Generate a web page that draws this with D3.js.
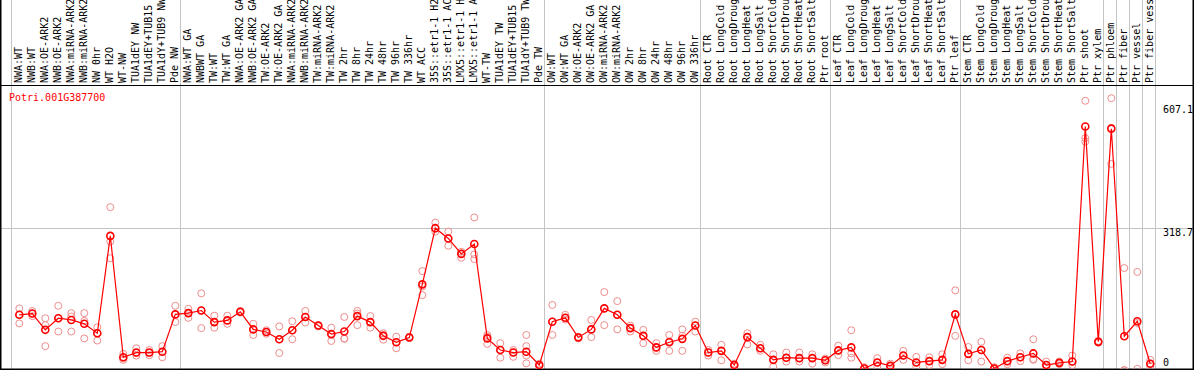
<!DOCTYPE html>
<html>
<head>
<meta charset="utf-8">
<script src="https://d3js.org/d3.v7.min.js"></script>
<style>
  body { margin: 0; background: #fff; }
  svg { display: block; }
  text { font-family: "DejaVu Sans Mono", monospace; font-size: 10px; }
</style>
</head>
<body>
<div id="chart"></div>
<script>
// Expression profile chart

// sample names (already cut to 14 chars like the original)
var sampleLabels = [
    "NWA:WT", "NWB:WT", "NWA:OE-ARK2", "NWB:OE-ARK2", "NWA:miRNA-ARK2", "NWB:miRNA-ARK2",
    "NW 0hr", "WT H2O", "WT-NW", "TUA1dEY NW", "TUA1dEY+TUB15", "TUA1dY+TUB9 NW", "Pde NW",
    "NWA:WT GA", "NWBWT GA", "TW:WT", "TW:WT GA", "NWA:OE-ARK2 GA", "NWB:OE-ARK2 GA",
    "TW:OE-ARK2", "TW:OE-ARK2 GA", "NWA:miRNA-ARK2", "NWB:miRNA-ARK2", "TW:miRNA-ARK2",
    "TW:miRNA-ARK2", "TW 2hr", "TW 8hr", "TW 24hr", "TW 48hr", "TW 96hr", "TW 336hr",
    "WT ACC", "35S::etr1-1 H2", "35S::etr1-1 AC", "LMX5::etr1-1 H", "LMX5::etr1-1 A",
    "WT-TW", "TUA1dEY TW", "TUA1dEY+TUB15", "TUA1dY+TUB9 TW", "Pde TW",
    "OW:WT", "OW:WT GA", "OW:OE-ARK2", "OW:OE-ARK2 GA", "OW:miRNA-ARK2", "OW:miRNA-ARK2",
    "OW 2hr", "OW 8hr", "OW 24hr", "OW 48hr", "OW 96hr", "OW 336hr",
    "Root CTR", "Root LongCold", "Root LongDroug", "Root LongHeat", "Root LongSalt",
    "Root ShortCold", "Root ShortDrou", "Root ShortHeat", "Root ShortSalt", "Ptr root",
    "Leaf CTR", "Leaf LongCold", "Leaf LongDroug", "Leaf LongHeat", "Leaf LongSalt",
    "Leaf ShortCold", "Leaf ShortDrou", "Leaf ShortHeat", "Leaf ShortSalt", "Ptr leaf",
    "Stem CTR", "Stem LongCold", "Stem LongDroug", "Stem LongHeat", "Stem LongSalt",
    "Stem ShortCold", "Stem ShortDrou", "Stem ShortHeat", "Stem ShortSalt", "Ptr shoot",
    "Ptr xylem", "Ptr phloem", "Ptr fiber", "Ptr vessel", "Ptr fiber vess"
];

// mean expression per sample
var meanValues = [
    117, 120, 82, 109, 105, 96, 74, 301, 18, 29, 29, 31, 118,
    121, 127, 100, 104, 124, 83, 77, 60, 81, 112, 92, 72, 78, 114, 100, 68, 53, 64,
    188, 319, 295, 259, 282, 62, 35, 29, 31, 0,
    101, 110, 64, 83, 132, 117, 86, 68, 41, 53, 61, 92,
    29, 33, 0, 65, 39, 12, 17, 16, 16, 11,
    34, 41, -8, 6, -2, 22, 6, 9, 12, 118,
    26, 35, -8, 9, 18, 27, 0, 5, 8, 556,
    54, 551, 67, 102, 3
];

// single replicates per sample
var replicateValues = [
    [132, 117, 97], [126, 120, 114], [109, 93, 44], [138, 109, 78], [121, 113, 78],
    [121, 103, 62], [88, 74, 57], [368, 288, 249], [26, 16, 12], [39, 28, 22],
    [35, 28, 23], [44, 31, 18], [138, 118, 100],
    [131, 121, 110], [167, 127, 86], [115, 100, 87], [115, 104, 96], [126, 124, 122],
    [96, 83, 70], [81, 77, 73], [90, 60, 28], [102, 81, 60], [126, 112, 99],
    [93, 92, 90], [87, 72, 56], [112, 62, 61], [126, 120, 93], [114, 100, 87],
    [74, 70, 59], [66, 53, 39], [66, 64, 63],
    [219, 183, 163], [332, 318, 311], [311, 295, 278], [264, 260, 250], [344, 258, 247],
    [70, 66, 49], [51, 35, 17], [35, 29, 19], [70, 44, 22, 4], [3, 0, -3],
    [140, 101, 70], [117, 110, 106], [66, 64, 62], [105, 83, 65], [170, 132, 93],
    [149, 117, 83], [92, 86, 78], [82, 68, 51], [51, 41, 33], [70, 55, 33],
    [83, 68, 33], [101, 92, 78],
    [35, 29, 22], [47, 33, 11], [3, 0, -3], [74, 65, 48], [47, 39, 33],
    [25, 12, -4], [29, 17, 8], [29, 16, 8], [25, 16, 3], [15, 11, 6],
    [45, 34, 23], [81, 27, 17], [-5, -8, -10], [16, 6, -4], [3, -2, -8],
    [33, 22, 12], [19, 6, -4], [18, 9, 0], [25, 12, 2], [174, 118, 68],
    [42, 26, 11], [54, 35, 8], [-5, -8, -10], [17, 9, 2], [27, 18, 9],
    [60, 14, 12], [8, 0, -4], [8, 5, 2], [22, 8, 0], [616, 529, 521],
    [56, 54, 52], [622, 553, 469], [226, -12, -12], [217, 98, -9], [12, 3, -4]
];

// a gray separator follows each of these sample indexes (-1 = left edge)
var groupEnds = [-1, 12, 40, 52, 62, 72, 83, 84, 85, 86, 87];

// right side labels, the middle one also gets a grid line
var tickValues = [607.1, 318.7, 0];
var gridValues = [318.7];

var geneName = "Potri.001G387700";

// SVG size
var svgWidth = 1194;
var svgHeight = 370;
var headerHeight = 85;
var plotBottom = 369;

var svg = d3.select("#chart")
    .append("svg")
    .attr("width", svgWidth)
    .attr("height", svgHeight);

// scales
var xScale = d3.scalePoint()
    .domain(d3.range(sampleLabels.length))
    .range([19.3, 19.3 + 13 * (sampleLabels.length - 1)]);

var yScale = d3.scaleLinear()
    .domain([0, 607.1])
    .range([365, 104.6]);

// clip for the plot area
svg.append("clipPath")
    .attr("id", "plotClip")
    .append("rect")
    .attr("x", 0)
    .attr("y", headerHeight)
    .attr("width", svgWidth)
    .attr("height", plotBottom - headerHeight);

// vertical group separators (run through header and plot)
svg.append("g")
    .selectAll("line")
    .data(groupEnds)
    .enter()
    .append("line")
    .attr("x1", d => Math.round(xScale(Math.max(d, 0)) + (d < 0 ? -13 : 0) + 5) + 0.5)
    .attr("x2", d => Math.round(xScale(Math.max(d, 0)) + (d < 0 ? -13 : 0) + 5) + 0.5)
    .attr("y1", 0)
    .attr("y2", plotBottom)
    .attr("stroke", "#c4c4c4")
    .attr("stroke-width", 1);

// horizontal grid line
svg.append("g")
    .selectAll("line")
    .data(gridValues)
    .enter()
    .append("line")
    .attr("x1", 0)
    .attr("x2", svgWidth)
    .attr("y1", d => Math.round(yScale(d)) + 0.5)
    .attr("y2", d => Math.round(yScale(d)) + 0.5)
    .attr("stroke", "#c4c4c4")
    .attr("stroke-width", 1);

// frame
svg.append("line")
    .attr("x1", 0).attr("x2", svgWidth)
    .attr("y1", headerHeight + 0.5).attr("y2", headerHeight + 0.5)
    .attr("stroke", "#000");
svg.append("line")
    .attr("x1", 0).attr("x2", svgWidth)
    .attr("y1", plotBottom + 0.5).attr("y2", plotBottom + 0.5)
    .attr("stroke", "#000").attr("stroke-width", 2);
svg.append("line")
    .attr("x1", 0.5).attr("x2", 0.5)
    .attr("y1", 0).attr("y2", svgHeight)
    .attr("stroke", "#000").attr("stroke-width", 2);
svg.append("line")
    .attr("x1", svgWidth - 0.5).attr("x2", svgWidth - 0.5)
    .attr("y1", 0).attr("y2", svgHeight)
    .attr("stroke", "#000").attr("stroke-width", 2);

// rotated sample labels
svg.append("g")
    .selectAll("text")
    .data(sampleLabels)
    .enter()
    .append("text")
    .attr("transform", (d, i) => `translate(${xScale(i) + 3}, 83) rotate(-90)`)
    .attr("fill", "#000")
    .text(d => d);

// right axis labels
var rightAxis = d3.axisRight(yScale)
    .tickValues(tickValues)
    .tickSize(0)
    .tickPadding(0)
    .tickFormat(d => d === 0 ? "0" : d3.format(".1f")(d));

var axisGroup = svg.append("g")
    .attr("transform", "translate(1163, 0)")
    .call(rightAxis);
axisGroup.select(".domain").remove();
axisGroup.selectAll("text")
    .attr("fill", "#000")
    .attr("font-family", "DejaVu Sans Mono")
    .attr("font-size", 10)
    .attr("dy", d => d === 0 ? "0em" : "0.74em");

// gene name
svg.append("text")
    .attr("x", 9)
    .attr("y", 101)
    .attr("fill", "red")
    .text(geneName);

var plot = svg.append("g")
    .attr("clip-path", "url(#plotClip)");

// replicate points
var repPoints = [];
replicateValues.forEach(function (reps, i) {
    reps.forEach(function (v) {
        repPoints.push({ i: i, v: v });
    });
});

plot.append("g")
    .selectAll("circle")
    .data(repPoints)
    .enter()
    .append("circle")
    .attr("cx", d => xScale(d.i))
    .attr("cy", d => yScale(d.v))
    .attr("r", 3.5)
    .attr("fill", "none")
    .attr("stroke", "#ee8c8c")
    .attr("stroke-width", 1);

// mean line
var meanLine = d3.line()
    .x((d, i) => xScale(i))
    .y(d => yScale(d));

plot.append("path")
    .datum(meanValues)
    .attr("d", meanLine)
    .attr("fill", "none")
    .attr("stroke", "red")
    .attr("stroke-width", 1.2);

// mean markers
plot.append("g")
    .selectAll("circle")
    .data(meanValues)
    .enter()
    .append("circle")
    .attr("cx", (d, i) => xScale(i))
    .attr("cy", d => yScale(d))
    .attr("r", 3.5)
    .attr("fill", "none")
    .attr("stroke", "red")
    .attr("stroke-width", 1.6);
</script>
</body>
</html>
